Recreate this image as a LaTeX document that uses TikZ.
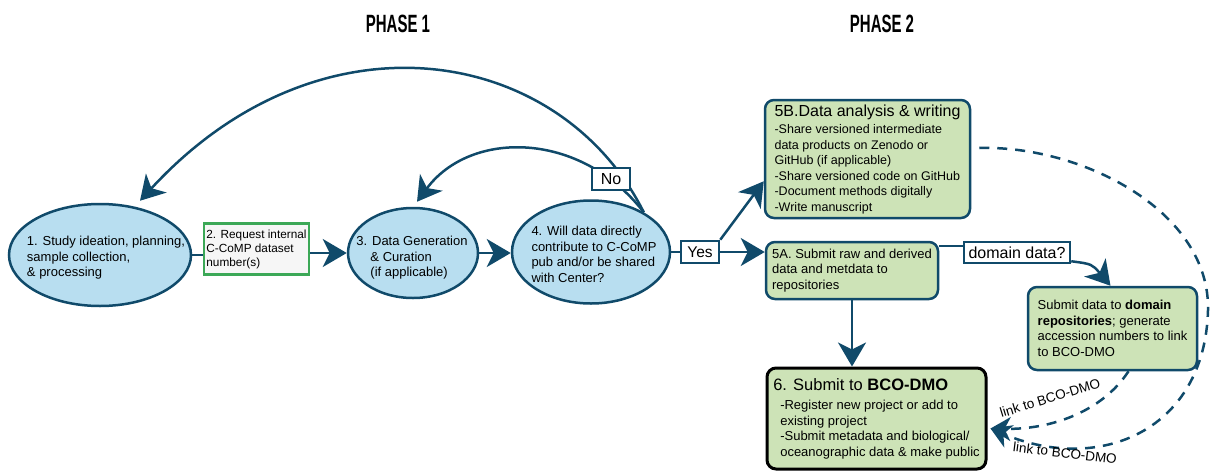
\documentclass[tikz,border=0pt]{standalone}
\usepackage{fontspec}
\setmainfont{Liberation Sans}
\usetikzlibrary{shapes.geometric,arrows.meta,calc}
\definecolor{navy}{RGB}{16,74,106}
\definecolor{eblue}{RGB}{184,222,240}
\definecolor{lgreen}{RGB}{205,227,183}
\definecolor{bgreen}{RGB}{60,168,87}
\definecolor{pale}{RGB}{246,246,246}
\begin{document}
\begin{tikzpicture}[x=1pt,y=-1pt,
  ell/.style={ellipse,draw=navy,line width=2.5pt,fill=eblue,inner sep=0pt},
  txt/.style={align=left,inner sep=0pt,font=\fontsize{13}{15.5}\selectfont},
  gbox/.style={rectangle,rounded corners=9pt,draw=navy,line width=2.5pt,fill=lgreen,align=left,inner sep=2pt,font=\fontsize{13}{15.5}\selectfont},
  tag/.style={rectangle,draw=navy,line width=2.5pt,fill=white,inner sep=0pt,font=\fontsize{15.5}{18}\selectfont},
  ln/.style={draw=navy,line width=2.5pt},
  arr/.style={draw=navy,line width=2.5pt,-{Stealth[length=24pt,width=28pt,inset=7pt]}},
  dsh/.style={draw=navy,line width=2.5pt,dash pattern=on 10pt off 8pt,-{Stealth[length=20pt,width=24pt,inset=6pt]}},
  phase/.style={inner sep=0pt,font=\fontsize{25}{25}\selectfont\bfseries},
  lnk/.style={inner sep=0pt,font=\fontsize{13.5}{15}\selectfont}
]
\useasboundingbox (0,0) rectangle (1214,471);

% titles
\node[phase] (p1) at (398,24) {\scalebox{0.6}[1]{PHASE 1}};
\node[phase] (p2) at (882,24) {\scalebox{0.6}[1]{PHASE 2}};

% phase 1 nodes
\node[ell,minimum width=182pt,minimum height=102pt] (n1) at (100,255) {};
\node[txt] (t1) at (106,258) {1. Study ideation, planning,\\sample collection,\\\& processing};

\node[rectangle,draw=bgreen,line width=2.5pt,fill=pale,minimum width=105pt,minimum height=51pt,align=left,inner sep=1.5pt,font=\fontsize{11.8}{14}\selectfont] (n2) at (256.5,249) {2. Request internal\\C-CoMP dataset\\number(s)};

\node[ell,minimum width=130pt,minimum height=90pt] (n3) at (413,253) {};
\node[txt] (t3) at (412,258) {3. Data Generation\\\hspace*{14pt}\& Curation\\\hspace*{14pt}(if applicable)};

\node[ell,minimum width=158pt,minimum height=103pt] (n4) at (591,252) {};
\node[txt] (t4) at (594,254.5) {4. Will data directly\\contribute to C-CoMP\\pub and/or be shared\\with Center?};

% loops back
\draw[arr] (n4.37) .. controls (560,45) and (320,5) .. ([xshift=40pt,yshift=2pt]n1.north);
\draw[arr] (n4.37) .. controls (580,130) and (470,130) .. ([xshift=4pt,yshift=5pt]n3.north);
\node[tag,minimum width=38pt,minimum height=22pt,font=\fontsize{16}{18}\selectfont] (no) at (611,179) {No};

% phase 1 connectors
\draw[ln] (n1.east) -- (n1.east -| n2.west);
\draw[arr] (n2.east |- n3.west) -- (n3.west);
\draw[arr] (n3.east) -- (n3.east -| n4.west);

% phase 2 nodes
\node[gbox,minimum width=205pt,minimum height=118pt] (n5b) at (867.5,159) {{\fontsize{16}{18}\selectfont 5B.Data analysis \& writing}\\[2pt]
{\fontsize{12.5}{15.3}\selectfont -Share versioned intermediate}\\
{\fontsize{12.5}{15.3}\selectfont data products on Zenodo or}\\
{\fontsize{12.5}{15.3}\selectfont GitHub (if applicable)}\\
{\fontsize{12.5}{15.3}\selectfont -Share versioned code on GitHub}\\
{\fontsize{12.5}{15.3}\selectfont -Document methods digitally}\\
{\fontsize{12.5}{15.3}\selectfont -Write manuscript}};

\node[gbox,minimum width=172pt,minimum height=57pt] (n5a) at (852,270.5) {5A. Submit raw and derived\\data and metdata to\\repositories};

\node[tag,minimum width=38pt,minimum height=22pt] (yes) at (700,252) {Yes};
\draw[ln] (n4.east) -- (yes.west);
\draw[arr] (yes.east) -- (yes.east -| n5a.west);
\draw[arr] (yes.north east) -- ([yshift=38pt]n5b.south west);

\node[tag,minimum width=106pt,minimum height=21pt,font=\fontsize{16}{18}\selectfont] (dom) at (1017,252.5) {domain data?};
\draw[ln] ([yshift=-5pt]n5a.north east) -- ([yshift=-5pt]n5a.north east -| dom.west);

\node[gbox,minimum width=169pt,minimum height=83pt] (dr) at (1112.5,328.5) {Submit data to \textbf{domain}\\\textbf{repositories}; generate\\accession numbers to link\\to BCO-DMO};
\draw[arr] ([yshift=3pt]dom.south east) .. controls (1092,264) .. ([xshift=-2pt]dr.north);

\node[gbox,draw=black,line width=3pt,minimum width=219pt,minimum height=101pt] (n6) at (876.5,418.5) {{\fontsize{16.5}{19}\selectfont 6. Submit to \textbf{BCO-DMO}}\\[4pt]
\hspace*{7pt}-Register new project or add to\\
\hspace*{7pt}existing project\\
\hspace*{7pt}-Submit metadata and biological/\\
\hspace*{7pt}oceanographic data \& make public};

\draw[arr] (n5a.south) -- (n5a.south |- n6.north);

% dashed links
\coordinate (tip) at ([xshift=3pt,yshift=-10pt]n6.east);
\draw[dsh] ([xshift=16pt]dr.south) .. controls (1102,412) and (1050,430) .. (tip);
\draw[dsh] ([xshift=8pt,yshift=11pt]n5b.east) .. controls (1080,145) and (1210,210) .. (1208,310) .. controls (1205,430) and (1100,475) .. (tip);
\node[lnk,rotate=17] (l1) at (1050,398) {link to BCO-DMO};
\node[lnk,rotate=-7] (l2) at (1065,453) {link to BCO-DMO};
\end{tikzpicture}
\end{document}
